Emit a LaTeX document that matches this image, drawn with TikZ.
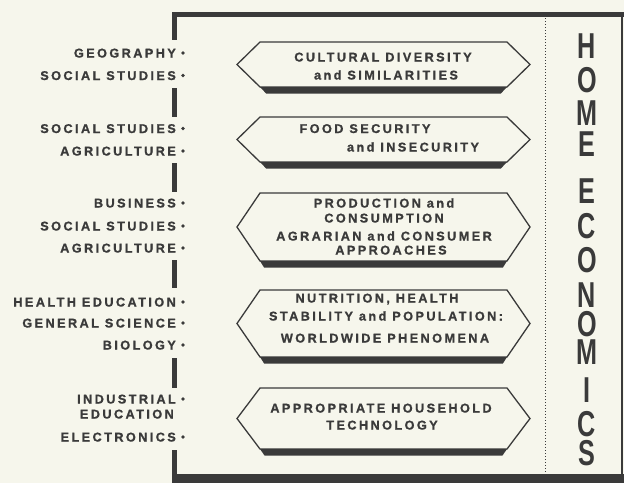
\documentclass[tikz,border=0pt]{standalone}
\usepackage{fontspec}
\setmainfont{Liberation Sans}
\newfontfamily\labfont{Liberation Sans Bold}[LetterSpace=19, FakeBold=1]
\newfontfamily\bigfont{Liberation Sans Bold}
\definecolor{paper}{HTML}{F6F6EC}
\definecolor{ink}{HTML}{3A3A3A}
\tikzset{
  lab/.style={inner sep=0pt, text=ink, font=\labfont\fontsize{12.7}{14}\selectfont},
  boxtxt/.style={inner sep=0pt, anchor=base, text=ink, font=\labfont\fontsize{12.7}{14}\selectfont},
  letter/.style={inner sep=0pt, text=ink, xscale=0.7, font=\bigfont\fontsize{36}{38}\selectfont},
  hexline/.style={draw=ink, line width=1.3pt, line join=miter},
  wall/.style={fill=ink},
  bullet/.style={fill=ink}
}
\newcommand{\hexshape}[3]{%
  \pgfmathsetmacro{\hm}{(#2+#3)/2}%
  \pgfmathsetmacro{\hx}{6*23/((#3-#2)/2)}%
  \coordinate (#1-w) at (237,\hm);
  \coordinate (#1-nw) at (260,#2);
  \coordinate (#1-ne) at (507,#2);
  \coordinate (#1-e) at (530,\hm);
  \coordinate (#1-se) at (507,#3);
  \coordinate (#1-sw) at (260,#3);
  \fill[ink] (#1-sw) -- (#1-se) -- ({507-\hx},{#3+6.5}) -- ({260+\hx},{#3+6.5}) -- cycle;
  \draw[hexline] (#1-w) -- (#1-nw) -- (#1-ne) -- (#1-e) -- (#1-se) -- (#1-sw) -- cycle;
}
\begin{document}
\begin{tikzpicture}[x=1pt,y=-1pt]
\useasboundingbox (0,0) rectangle (624,483);
\fill[paper] (0,0) rectangle (624,483);
% frame
\fill[wall] (172,12) rectangle (624,17);
\fill[wall] (172,474) rectangle (624,483);
\draw[ink, line width=2pt] (622,15) -- (622,475);
\foreach \a/\b in {12/40, 88/117, 163/192, 260/288, 358/388, 450/483}
  \fill[wall] (172,\a) rectangle (177,\b);
\draw[ink, line width=1pt, dash pattern=on 1pt off 2pt] (545,18) -- (545,473);
% hexagons
\hexshape{h1}{42}{87}
\hexshape{h2}{117}{162}
\hexshape{h3}{193}{261}
\hexshape{h4}{290}{357}
\hexshape{h5}{388}{449}
% box texts
\node[boxtxt] (t11) at (383,61.5) {CULTURAL DIVERSITY};
\node[boxtxt] (t12) at (386,79.5) {and SIMILARITIES};
\node[boxtxt] (t21) at (365,133) {FOOD SECURITY};
\node[boxtxt] (t22) at (413,151.5) {and INSECURITY};
\node[boxtxt] (t31) at (384,207.5) {PRODUCTION and};
\node[boxtxt] (t32) at (384,222.5) {CONSUMPTION};
\node[boxtxt] (t33) at (384,240.5) {AGRARIAN and CONSUMER};
\node[boxtxt] (t34) at (391,254.5) {APPROACHES};
\node[boxtxt] (t41) at (377,302.5) {NUTRITION, HEALTH};
\node[boxtxt] (t42) at (386,320.5) {STABILITY and POPULATION:};
\node[boxtxt] (t43) at (385,342.5) {WORLDWIDE PHENOMENA};
\node[boxtxt] (t51) at (381,412.5) {APPROPRIATE HOUSEHOLD};
\node[boxtxt] (t52) at (382,429.5) {TECHNOLOGY};
% labels
\foreach \n/\y/\t in {l1/53/GEOGRAPHY, l2/75.5/SOCIAL STUDIES, l3/128.5/SOCIAL STUDIES, l4/151/AGRICULTURE,
  l5/203/BUSINESS, l6/226/SOCIAL STUDIES, l7/248/AGRICULTURE, l8/302/HEALTH EDUCATION,
  l9/323/GENERAL SCIENCE, l10/345/BIOLOGY, l11/399/INDUSTRIAL, l13/437/ELECTRONICS}{
  \node[lab, anchor=base east] (\n) at (176,\y+4.5) {\t};
  \fill[bullet] (183,\y) circle (1.9);
}
\node[lab, anchor=base east] (l12) at (174,418.5) {EDUCATION};
% HOME ECONOMICS
\foreach \c/\y [count=\i] in {H/46, O/80, M/113.5, E/144.5, E/191.5, C/226.5, O/260, N/295, O/324, M/352, I/390, C/424, S/453}
  \node[letter] (he\i) at (587,\y) {\c};
\end{tikzpicture}
\end{document}
